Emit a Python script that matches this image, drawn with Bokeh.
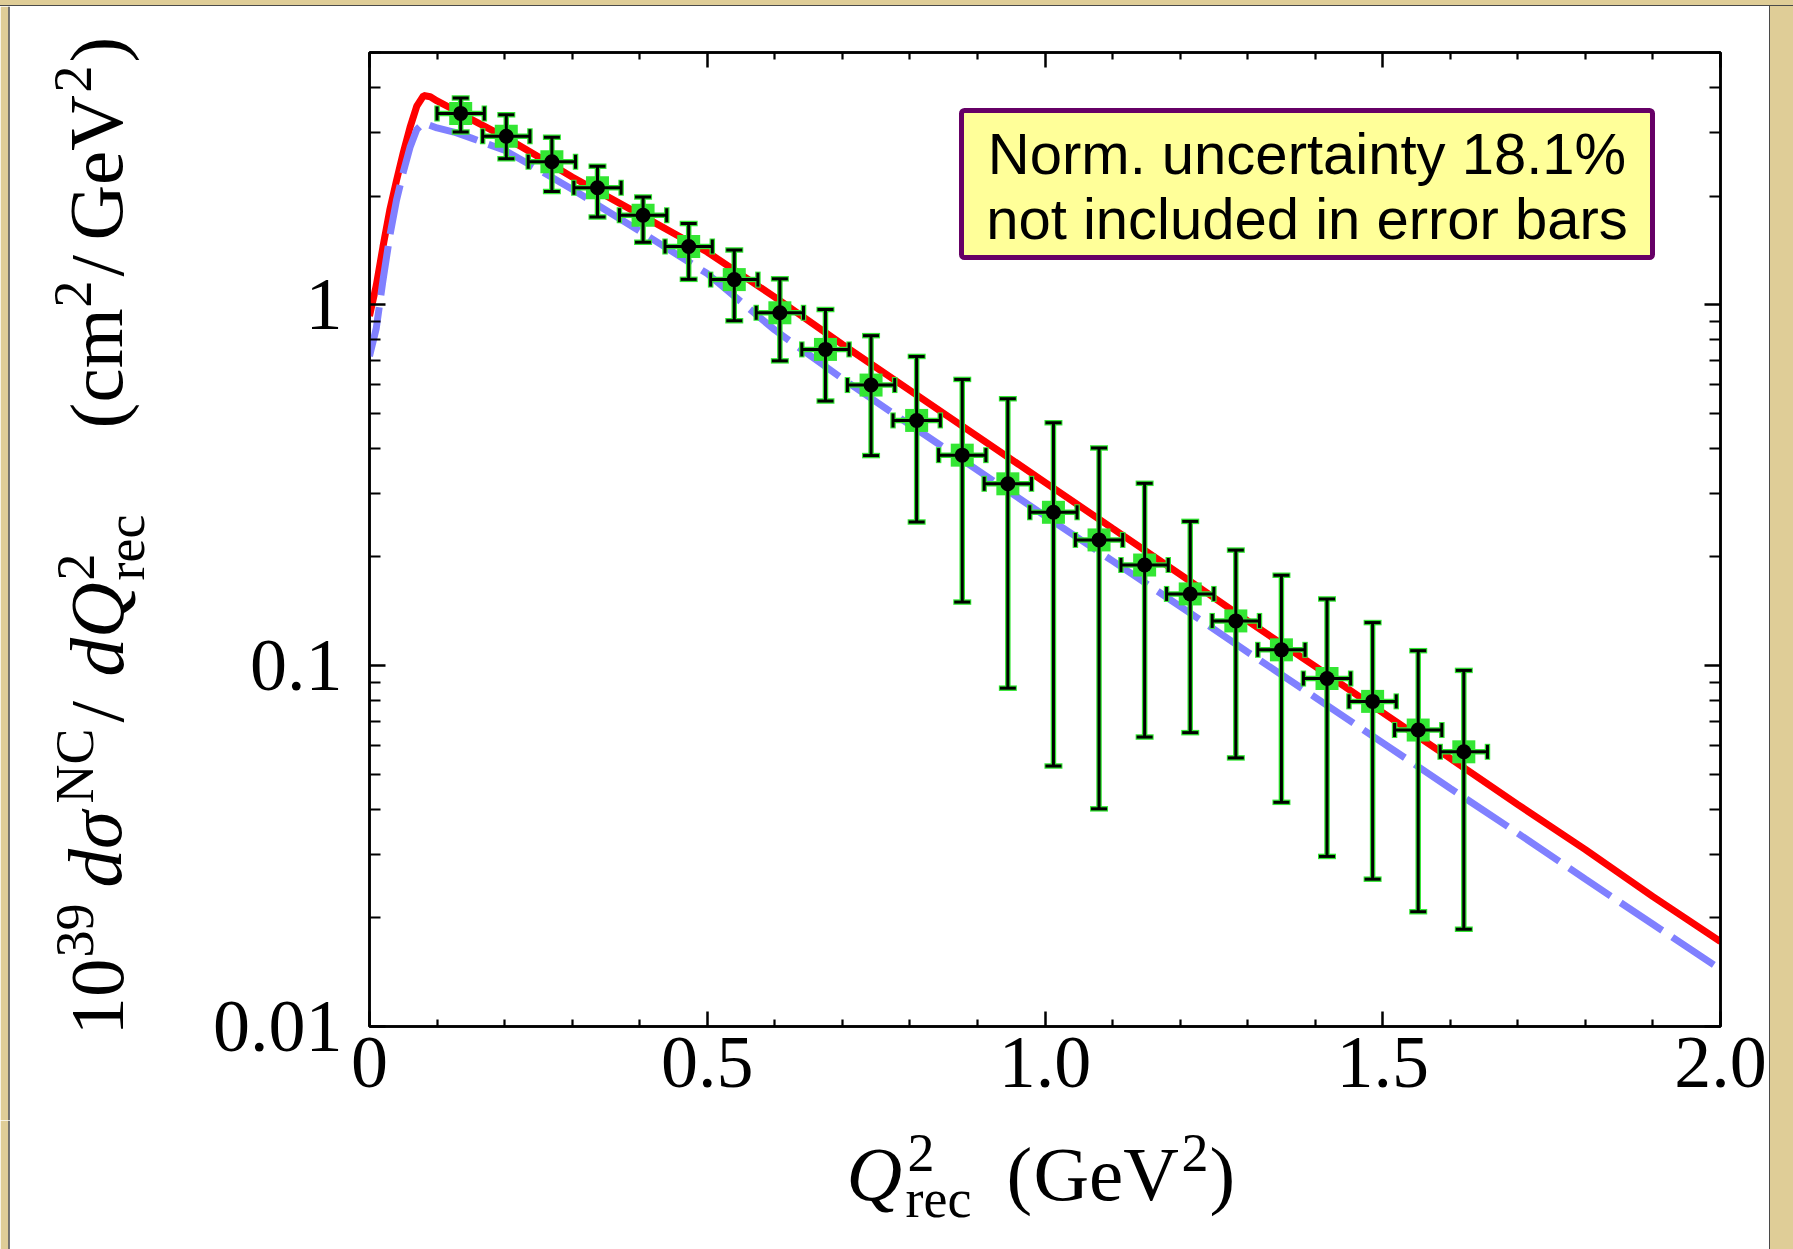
import math
from bokeh.plotting import figure
from bokeh.models import (Range1d, LinearAxis, LogAxis, FixedTicker, Span, Spacer,
                          CustomJSTickFormatter, BoxAnnotation, Label, ColumnDataSource)
from bokeh.layouts import column, row
from bokeh.embed import file_html
from bokeh.resources import INLINE

# ---------------- data ----------------
q2_rec = [0.135, 0.2025, 0.27, 0.3375, 0.405, 0.4725, 0.54, 0.6075, 0.675, 0.7425,
          0.81, 0.8775, 0.945, 1.0125, 1.08, 1.1475, 1.215, 1.2825, 1.35, 1.4175,
          1.485, 1.5525, 1.62]
dsigma = [3.39, 2.93, 2.49, 2.11, 1.77, 1.45, 1.174, 0.950, 0.752, 0.599,
          0.478, 0.383, 0.319, 0.266, 0.223, 0.190, 0.158, 0.133, 0.1106, 0.0921,
          0.0796, 0.0663, 0.0577]
dsigma_lo = [3.01, 2.54, 2.06, 1.75, 1.49, 1.176, 0.903, 0.699, 0.541, 0.382,
             0.250, 0.150, 0.0866, 0.0527, 0.0401, 0.0634, 0.0652, 0.0555, 0.0418, 0.0296,
             0.0256, 0.0208, 0.0186]
dsigma_hi = [3.74, 3.36, 2.91, 2.42, 1.99, 1.68, 1.419, 1.18, 0.97, 0.821,
             0.719, 0.621, 0.549, 0.471, 0.401, 0.320, 0.251, 0.209, 0.178, 0.153,
             0.1316, 0.110, 0.097]
q2_half_bin = 0.035

model_q2 = [0.0, 0.01, 0.02, 0.03, 0.04, 0.05, 0.06, 0.07, 0.08, 0.09, 0.10, 0.125,
            0.15, 0.2, 0.25, 0.3, 0.4, 0.5, 0.6, 0.7, 0.8, 0.9, 1.0, 1.1, 1.2, 1.3,
            1.4, 1.5, 1.6, 1.7, 1.8, 1.9, 2.0]
model_solid = [0.93, 1.13, 1.45, 1.83, 2.21, 2.64, 3.10, 3.55, 3.80, 3.77, 3.67, 3.47,
               3.27, 2.92, 2.57, 2.26, 1.78, 1.40, 1.05, 0.776, 0.579, 0.432, 0.322,
               0.240, 0.179, 0.133, 0.0995, 0.0741, 0.0553, 0.0412, 0.0309, 0.0229, 0.0172]
model_dashed = [0.72, 0.86, 1.17, 1.55, 1.95, 2.33, 2.73, 3.06, 3.19, 3.14, 3.09, 3.01,
                2.90, 2.68, 2.37, 2.09, 1.60, 1.22, 0.851, 0.624, 0.465, 0.348, 0.260,
                0.195, 0.146, 0.109, 0.0817, 0.0611, 0.0457, 0.0343, 0.0256, 0.0192, 0.0144]

x_major_ticks = [0, 0.5, 1.0, 1.5, 2.0]
x_minor_ticks = [0.1, 0.2, 0.3, 0.4, 0.6, 0.7, 0.8, 0.9, 1.1, 1.2, 1.3, 1.4,
                 1.6, 1.7, 1.8, 1.9]
y_major_ticks = [0.01, 0.1, 1]
y_minor_ticks = [0.02, 0.03, 0.04, 0.05, 0.06, 0.07, 0.08, 0.09,
                 0.2, 0.3, 0.4, 0.5, 0.6, 0.7, 0.8, 0.9, 2, 3, 4, 5]

note_lines = ["Norm. uncertainty 18.1%", "not included in error bars"]

# ---------------- page geometry (pixels) ----------------
W, H = 1793, 1249
PANEL_L, PANEL_T, PANEL_R = 9, 6, 1769        # white panel inside beige frame
SPLIT_X, SPLIT_Y = 165, 1120                   # title strips / main plot boundary
FL, FR, FT, FB = 369, 1720, 52, 1026           # plot frame
X_LO, X_HI = 0.0, 2.0
Y_LO, Y_HI = 0.01, 5.0
BASE_FIX = 0.32                                # alphabetic-baseline correction (em)

def px2x(px):
    return X_LO + (px - FL) / (FR - FL) * (X_HI - X_LO)

def py2y(py):
    a, b = math.log10(Y_HI), math.log10(Y_LO)
    return 10 ** (a + (py - FT) / (FB - FT) * (b - a))

def no_align(f):
    try:
        f.frame_align = False
    except Exception:
        pass

BEIGE = "#dfcd97"
EDGE = "#4a4a4a"
GREEN = "#33e633"
SERIF = "Liberation Serif"

main_w = PANEL_R - SPLIT_X
main_h = SPLIT_Y - PANEL_T
p = figure(width=main_w, height=main_h, x_range=Range1d(X_LO, X_HI),
           y_range=Range1d(Y_LO, Y_HI), y_axis_type="log", output_backend="svg",
           toolbar_location=None,
           min_border_left=FL - SPLIT_X, min_border_right=PANEL_R - FR,
           min_border_top=FT - PANEL_T, min_border_bottom=SPLIT_Y - FB)
no_align(p)
p.title.visible = False
p.border_fill_color = "white"
p.background_fill_color = "white"
p.xgrid.visible = False
p.ygrid.visible = False
p.outline_line_color = "black"
p.outline_line_width = 2.5

xt = FixedTicker(ticks=x_major_ticks, minor_ticks=x_minor_ticks)
yt = FixedTicker(ticks=y_major_ticks, minor_ticks=y_minor_ticks)
xfmt = CustomJSTickFormatter(code="return tick === 0 ? '0' : tick.toFixed(1);")
yfmt = CustomJSTickFormatter(code="return String(parseFloat(tick.toPrecision(1)));")
blank = CustomJSTickFormatter(code="return '';")

def style_axis(ax, major_in, minor_in):
    ax.major_tick_in = major_in
    ax.major_tick_out = 0
    ax.minor_tick_in = minor_in
    ax.minor_tick_out = 0
    ax.axis_line_width = 2.5
    ax.axis_line_color = "black"
    ax.major_tick_line_width = 2.5
    ax.minor_tick_line_width = 2.2
    ax.major_tick_line_color = "black"
    ax.minor_tick_line_color = "black"
    ax.major_label_text_font = SERIF
    ax.major_label_text_font_size = "74px"
    ax.major_label_text_color = "black"

xa = p.xaxis[0]
xa.ticker = xt
xa.formatter = xfmt
style_axis(xa, 15, 7)
xa.major_label_standoff = 11

ya = p.yaxis[0]
ya.ticker = yt
ya.formatter = yfmt
style_axis(ya, 16, 11)
ya.major_label_standoff = 27

top = LinearAxis(ticker=xt, formatter=blank)
style_axis(top, 15, 7)
top.major_label_text_font_size = "0px"
p.add_layout(top, "above")
right = LogAxis(ticker=yt, formatter=blank)
style_axis(right, 16, 11)
right.major_label_text_font_size = "0px"
p.add_layout(right, "right")

# ---------------- model curves ----------------
p.line(model_q2, model_solid, line_color="#ff0000", line_width=7)
p.line(model_q2, model_dashed, line_color="#8080ff", line_width=7, line_dash="50 12")

# ---------------- data points ----------------
src = ColumnDataSource(dict(
    x=q2_rec, y=dsigma, lo=dsigma_lo, hi=dsigma_hi,
    xl=[q - q2_half_bin for q in q2_rec], xr=[q + q2_half_bin for q in q2_rec]))

p.segment(x0="x", y0="lo", x1="x", y1="hi", source=src, line_color=GREEN, line_width=5.5)
p.segment(x0="xl", y0="y", x1="xr", y1="y", source=src, line_color=GREEN, line_width=5.5)
for col in ("lo", "hi"):
    p.scatter(x="x", y=col, source=src, marker="dash", size=18, line_color=GREEN, line_width=5.5)
for col in ("xl", "xr"):
    p.scatter(x=col, y="y", source=src, marker="dash", angle=math.pi / 2, size=16,
              line_color=GREEN, line_width=5.5)
p.scatter(x="x", y="y", source=src, marker="square", size=23, fill_color=GREEN, line_color=None)
p.segment(x0="x", y0="lo", x1="x", y1="hi", source=src, line_color="black", line_width=3)
p.segment(x0="xl", y0="y", x1="xr", y1="y", source=src, line_color="black", line_width=3)
for col in ("lo", "hi"):
    p.scatter(x="x", y=col, source=src, marker="dash", size=16, line_color="black", line_width=3)
for col in ("xl", "xr"):
    p.scatter(x=col, y="y", source=src, marker="dash", angle=math.pi / 2, size=14,
              line_color="black", line_width=3)
p.scatter(x="x", y="y", source=src, marker="circle", size=15, fill_color="black", line_color=None)

# ---------------- note box ----------------
NOTE_FS = 58
p.add_layout(BoxAnnotation(left=px2x(961), right=px2x(1652), top=py2y(110), bottom=py2y(257),
                           fill_color="#ffff99", fill_alpha=1.0, line_color="#660066",
                           line_alpha=1.0, line_width=5, border_radius=3))
for txt, base in zip(note_lines, [172, 237]):
    p.add_layout(Label(x=px2x(1306.5), y=py2y(base - BASE_FIX * NOTE_FS), text=txt,
                       text_align="center", text_baseline="alphabetic",
                       text_font="Liberation Sans", text_font_size=f"{NOTE_FS}px",
                       text_color="black"))

# ---------------- title strips (page-pixel coordinates) ----------------
def strip(width, height, x0, y0):
    f = figure(width=width, height=height, x_range=Range1d(x0, x0 + width),
               y_range=Range1d(y0 + height, y0), output_backend="svg",
               toolbar_location=None, x_axis_location=None, y_axis_location=None,
               min_border=0, min_border_left=0, min_border_right=0,
               min_border_top=0, min_border_bottom=0)
    no_align(f)
    f.title.visible = False
    f.xgrid.visible = False
    f.ygrid.visible = False
    f.outline_line_color = None
    f.background_fill_color = "white"
    f.border_fill_color = "white"
    f.add_layout(BoxAnnotation(left=0, right=PANEL_L - 1, fill_color=BEIGE, fill_alpha=1.0,
                               line_alpha=0, level="underlay"))
    f.add_layout(Span(location=PANEL_L - 0.5, dimension="height", line_color=EDGE,
                      line_width=1.5))
    return f

MAIN, SCRIPT = 77, 54
ys = strip(SPLIT_X, SPLIT_Y - PANEL_T, 0, PANEL_T)
# (text, baseline x, start y (text runs upward), size, style)
y_title = [("10", 122, 1035, MAIN, "normal"), ("39", 92, 957, SCRIPT, "normal"),
           ("dσ", 119, 887, MAIN, "italic"), ("NC", 92, 803, SCRIPT, "normal"),
           ("/", 121, 722, MAIN, "normal"), ("dQ", 121, 676, MAIN, "italic"),
           ("2", 93, 580, SCRIPT, "normal"), ("rec", 143, 580, SCRIPT, "normal"),
           ("(", 121, 428, MAIN, "normal"), ("cm", 120, 402, MAIN, "normal"),
           ("2", 90, 307, SCRIPT, "normal"), ("/", 121, 276, MAIN, "normal"),
           ("GeV", 120, 240, MAIN, "normal"), ("2", 90, 92, SCRIPT, "normal"),
           (")", 121, 62, MAIN, "normal")]
for txt, px, py, fs, st in y_title:
    ys.add_layout(Label(x=px - BASE_FIX * fs, y=py, text=txt, text_align="left",
                        text_baseline="alphabetic", text_font=SERIF, angle=math.pi / 2,
                        angle_units="rad", text_font_size=f"{fs}px", text_font_style=st,
                        text_color="black"))

xs = strip(PANEL_R, H - SPLIT_Y, 0, SPLIT_Y)
# (text, left x, baseline y, size, style)
x_title = [("Q", 846, 1198, MAIN, "italic"), ("2", 907, 1170, SCRIPT, "normal"),
           ("rec", 905, 1216, SCRIPT, "normal"), ("(", 1006, 1198, MAIN, "normal"),
           ("GeV", 1033, 1198, MAIN, "normal"), ("2", 1181, 1170, SCRIPT, "normal"),
           (")", 1209, 1198, MAIN, "normal")]
for txt, px, py, fs, st in x_title:
    xs.add_layout(Label(x=px, y=py - BASE_FIX * fs, text=txt, text_align="left",
                        text_baseline="alphabetic", text_font=SERIF,
                        text_font_size=f"{fs}px", text_font_style=st, text_color="black"))

top_bar = Spacer(width=W, height=PANEL_T,
                 styles={"background": f"linear-gradient(to bottom, {BEIGE} 0px, {BEIGE} 5px, {EDGE} 5px, {EDGE} 6px)"})
right_style = {"background": f"linear-gradient(to right, {EDGE} 0px, {EDGE} 1px, {BEIGE} 1px, {BEIGE} 100%)"}
right_a = Spacer(width=W - PANEL_R, height=SPLIT_Y - PANEL_T, styles=right_style)
right_b = Spacer(width=W - PANEL_R, height=H - SPLIT_Y, styles=right_style)

layout = column(top_bar, row(ys, p, right_a), row(xs, right_b))

open("out.html", "w").write(file_html(layout, INLINE))
